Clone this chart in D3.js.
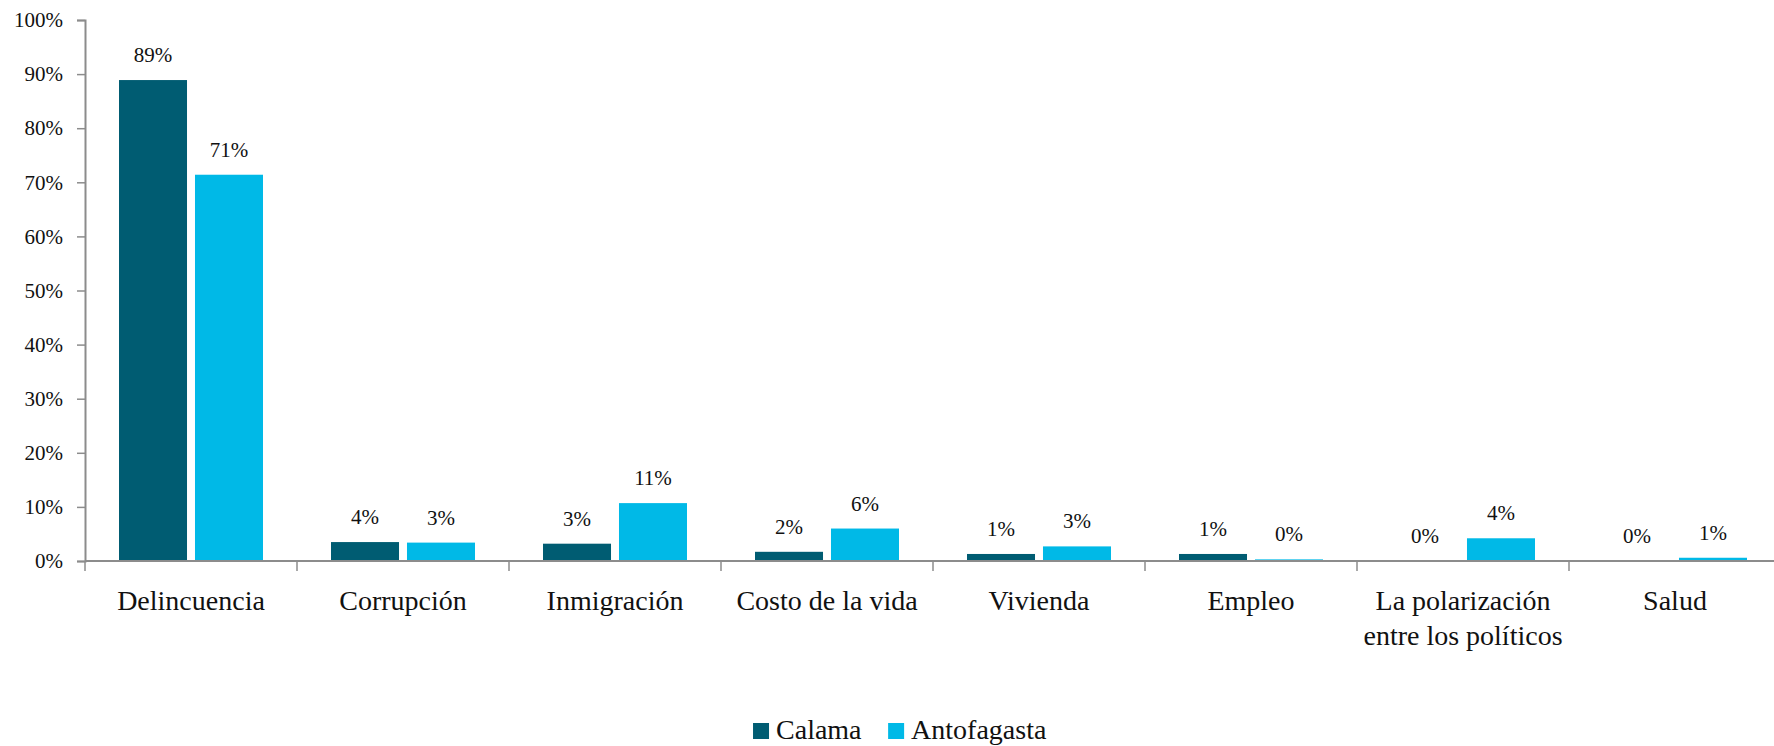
<!DOCTYPE html>
<html>
<head>
<meta charset="utf-8">
<script src="https://cdn.jsdelivr.net/npm/d3@7"></script>
<style>
  body { margin: 0; background: #fff; }
  svg text { font-family: 'Liberation Serif', 'Times New Roman', Tinos, 'Nimbus Roman', 'DejaVu Serif', 'Noto Serif', FreeSerif, serif; fill: #111; }
</style>
</head>
<body>
<svg width="1774" height="746"></svg>
<script>
(function () {
    'use strict';

    var categories = ['Delincuencia', 'Corrupción', 'Inmigración', 'Costo de la vida',
        'Vivienda', 'Empleo', 'La polarización|entre los políticos', 'Salud'];
    var seriesNames = ['Calama', 'Antofagasta'];
    var calama = [0.889, 0.035, 0.032, 0.017, 0.013, 0.013, 0.0, 0.0];
    var antofagasta = [0.714, 0.034, 0.107, 0.060, 0.027, 0.003, 0.042, 0.006];
    var yTicks = [0, 0.1, 0.2, 0.3, 0.4, 0.5, 0.6, 0.7, 0.8, 0.9, 1.0];

    var colors = { 'Calama': '#005c72', 'Antofagasta': '#00b9e7' };

    var svg = d3.select('svg'),
        left = 85, right = 1781, top = 20, bottom = 561;

    var data = categories.map(function (c, i) {
        return { cat: c, values: [
            { key: 'Calama', value: calama[i] },
            { key: 'Antofagasta', value: antofagasta[i] }
        ] };
    });

    var x0 = d3.scaleBand().domain(categories).range([left, right]).padding(0);
    var x1 = d3.scaleBand().domain(seriesNames)
        .range([34, x0.bandwidth() - 34]).paddingInner(0.105).paddingOuter(0);
    var y = d3.scaleLinear().domain([0, 1]).range([bottom, top]);
    var pct = d3.format('.0%');

    // y axis
    var yAxis = svg.append('g')
        .attr('transform', 'translate(' + left + ',0)')
        .call(d3.axisLeft(y).tickValues(yTicks).tickFormat(pct).tickSize(8).tickPadding(14));
    yAxis.attr('font-family', null);
    yAxis.select('.domain').attr('stroke', '#8c8c8c').attr('stroke-width', 2);
    yAxis.selectAll('.tick line').attr('stroke', '#8c8c8c').attr('stroke-width', 1.5);
    yAxis.selectAll('.tick text').attr('font-size', 21).attr('fill', '#111');

    // bars
    var groups = svg.selectAll('.cat')
        .data(data)
        .enter().append('g')
        .attr('class', 'cat')
        .attr('transform', function (d) { return 'translate(' + x0(d.cat) + ',0)'; });

    groups.selectAll('rect')
        .data(function (d) { return d.values; })
        .enter().append('rect')
        .attr('x', function (d) { return x1(d.key); })
        .attr('width', x1.bandwidth())
        .attr('y', function (d) { return y(d.value); })
        .attr('height', function (d) { return y(0) - y(d.value); })
        .attr('fill', function (d) { return colors[d.key]; });

    groups.selectAll('text.val')
        .data(function (d) { return d.values; })
        .enter().append('text')
        .attr('class', 'val')
        .attr('x', function (d) { return x1(d.key) + x1.bandwidth() / 2; })
        .attr('y', function (d) { return y(d.value) - 18; })
        .attr('text-anchor', 'middle')
        .attr('font-size', 21)
        .text(function (d) { return pct(d.value); });

    // x axis
    var xAxis = svg.append('g')
        .attr('transform', 'translate(0,' + bottom + ')');
    xAxis.append('line')
        .attr('x1', left).attr('x2', right)
        .attr('stroke', '#8c8c8c').attr('stroke-width', 2);
    xAxis.selectAll('line.tk')
        .data(categories.concat(['end']))
        .enter().append('line')
        .attr('class', 'tk')
        .attr('x1', function (d, i) { return left + i * x0.step(); })
        .attr('x2', function (d, i) { return left + i * x0.step(); })
        .attr('y1', 0).attr('y2', 10)
        .attr('stroke', '#8c8c8c').attr('stroke-width', 1.5);

    var labels = xAxis.selectAll('text.cat')
        .data(categories)
        .enter().append('text')
        .attr('class', 'cat')
        .attr('text-anchor', 'middle')
        .attr('font-size', 28)
        .attr('x', function (d) { return x0(d) + x0.bandwidth() / 2; })
        .attr('y', 49);
    labels.selectAll('tspan')
        .data(function (d) { return d.split('|'); })
        .enter().append('tspan')
        .attr('x', function () { return this.parentNode.getAttribute('x'); })
        .attr('dy', function (d, i) { return i === 0 ? 0 : 35; })
        .text(function (d) { return d; });

    // legend
    var legend = svg.append('g').attr('transform', 'translate(0,739)');
    var items = legend.selectAll('g')
        .data(seriesNames)
        .enter().append('g');
    items.append('rect')
        .attr('y', -16).attr('width', 16).attr('height', 16)
        .attr('fill', function (d) { return colors[d]; });
    items.append('text')
        .attr('x', 23).attr('y', 0)
        .attr('font-size', 28)
        .text(function (d) { return d; });

    var widths = [];
    items.each(function () { widths.push(this.getBBox().width); });
    var gap = 26;
    var total = d3.sum(widths) + gap * (widths.length - 1);
    var pos = 900 - total / 2;
    items.attr('transform', function (d, i) {
        var t = 'translate(' + pos + ',0)';
        pos += widths[i] + gap;
        return t;
    });
})();
</script>
</body>
</html>
